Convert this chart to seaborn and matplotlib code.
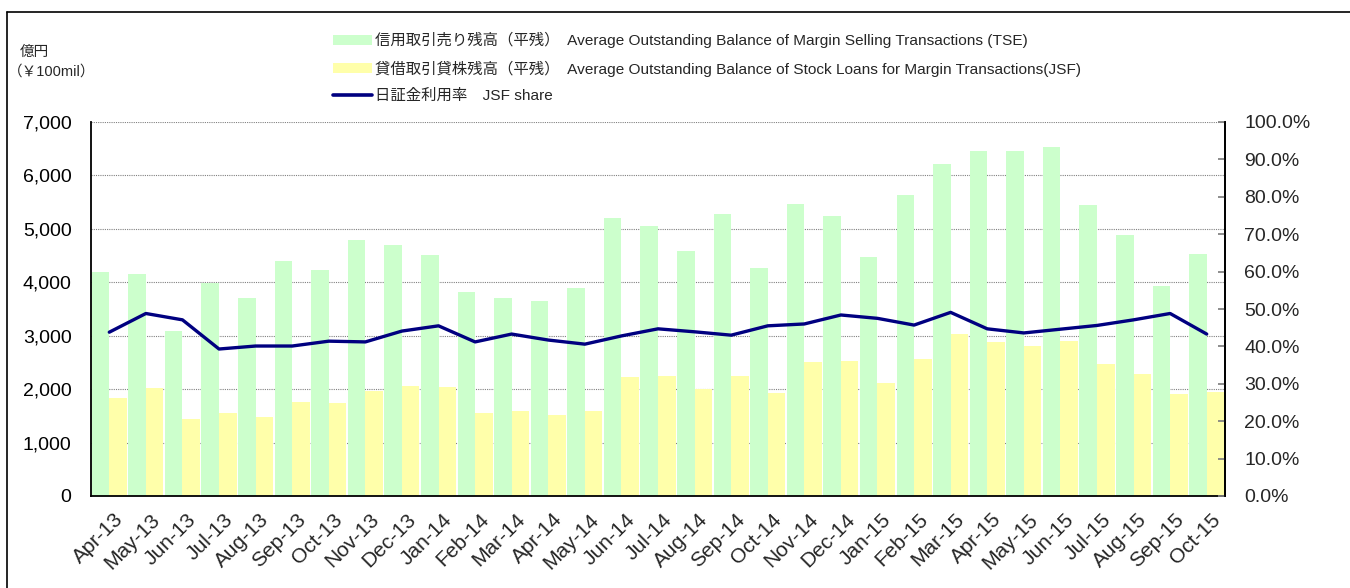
import numpy as np
import pandas as pd
import seaborn as sns
import matplotlib.pyplot as plt
import matplotlib.transforms as mtransforms
from matplotlib.patches import Patch
from matplotlib.lines import Line2D
from matplotlib.ticker import FixedLocator, StrMethodFormatter, PercentFormatter

sns.set_theme(style='white')
plt.rcParams['font.family'] = ['Liberation Sans', 'Noto Sans CJK JP']

# data
months = ['Apr-13', 'May-13', 'Jun-13', 'Jul-13', 'Aug-13', 'Sep-13', 'Oct-13', 'Nov-13',
          'Dec-13', 'Jan-14', 'Feb-14', 'Mar-14', 'Apr-14', 'May-14', 'Jun-14', 'Jul-14',
          'Aug-14', 'Sep-14', 'Oct-14', 'Nov-14', 'Dec-14', 'Jan-15', 'Feb-15', 'Mar-15',
          'Apr-15', 'May-15', 'Jun-15', 'Jul-15', 'Aug-15', 'Sep-15', 'Oct-15']
tse_selling = [4190, 4155, 3080, 3980, 3711, 4398, 4230, 4791, 4698, 4511, 3818, 3706,
               3650, 3893, 5203, 5053, 4585, 5278, 4267, 5465, 5240, 4467, 5628, 6214,
               6463, 6457, 6532, 5452, 4879, 3930, 4529]
jsf_loans = [1828, 2016, 1435, 1548, 1473, 1754, 1735, 1965, 2059, 2040, 1553, 1590,
             1516, 1590, 2227, 2246, 2003, 2246, 1928, 2508, 2527, 2121, 2564, 3038,
             2888, 2807, 2901, 2470, 2283, 1903, 1952]
jsf_share = [43.8, 48.8, 47.1, 39.3, 40.1, 40.1, 41.4, 41.2, 44.1, 45.5, 41.2, 43.3,
             41.7, 40.6, 42.8, 44.7, 43.9, 43.0, 45.5, 46.0, 48.4, 47.5, 45.7, 49.1,
             44.7, 43.6, 44.6, 45.6, 47.1, 48.8, 43.3]

lab_tse = '信用取引売り残高（平残）  Average Outstanding Balance of Margin Selling Transactions (TSE)'
lab_jsf = '貸借取引貸株残高（平残）  Average Outstanding Balance of Stock Loans for Margin Transactions(JSF)'
lab_share = '日証金利用率　JSF share'

green = '#CCFFCC'
yellow = '#FFFFAA'
navy = '#000080'

df = pd.DataFrame({
    'month': months * 2,
    'value': tse_selling + jsf_loans,
    'series': ['TSE'] * len(months) + ['JSF'] * len(months),
})

fig = plt.figure(figsize=(13.5, 5.88), dpi=100)
ax = fig.add_axes([91 / 1350, 1 - 496 / 588, (1225 - 91) / 1350, (496 - 122) / 588])

sns.barplot(data=df, x='month', y='value', hue='series', hue_order=['TSE', 'JSF'],
            palette=[green, yellow], width=0.96, gap=0, saturation=1,
            edgecolor='none', linewidth=0, legend=False, ax=ax)
ax.set_xlim(-0.5, len(months) - 0.5)
ax.set_ylim(0, 7000)
ax.set_yticks(np.arange(0, 7001, 1000))
ax.yaxis.set_major_formatter(StrMethodFormatter('{x:,.0f}'))
ax.set_axisbelow(True)
ax.yaxis.grid(True, color='#808080', linestyle=(0, (1, 1)), linewidth=0.8)
ax.set_xlabel('')
ax.set_ylabel('')
ax.tick_params(axis='y', length=0, pad=14, labelsize=14, colors='black')
ax.tick_params(axis='x', which='major', length=0, pad=10, labelsize=15)
ax.xaxis.set_minor_locator(FixedLocator(np.arange(0.5, len(months) - 1, 1)))
ax.tick_params(axis='x', which='minor', direction='in', length=5, color='#808080', width=1)
shift = mtransforms.ScaledTranslation(4 / 100, 0, fig.dpi_scale_trans)
for lbl in ax.get_xticklabels():
    lbl.set_rotation(45)
    lbl.set_ha('right')
    lbl.set_va('top')
    lbl.set_rotation_mode('anchor')
    lbl.set_transform(lbl.get_transform() + shift)

for s in ['left', 'bottom', 'right']:
    ax.spines[s].set_color('black')
    ax.spines[s].set_linewidth(1.3)
ax.spines['top'].set_visible(False)

ax2 = ax.twinx()
sns.lineplot(x=np.arange(len(months)), y=jsf_share, color=navy, linewidth=2.4, ax=ax2)
ax2.set_ylim(0, 100)
ax2.set_yticks(np.arange(0, 101, 10))
ax2.yaxis.set_major_formatter(PercentFormatter(decimals=1))
ax2.tick_params(axis='y', direction='in', length=5, color='#808080', pad=14, labelsize=14)
ax2.grid(False)
ax2.spines['top'].set_visible(False)
ax2.spines['right'].set_color('black')
ax2.spines['right'].set_linewidth(1.3)
ax2.spines['left'].set_visible(False)
ax2.spines['bottom'].set_visible(False)

handles = [Patch(facecolor=green, edgecolor='none'),
           Patch(facecolor=yellow, edgecolor='none'),
           Line2D([0], [0], color=navy, linewidth=2.6)]
fig.legend(handles, [lab_tse, lab_jsf, lab_share], loc='upper left',
           bbox_to_anchor=(333 / 1350, 1 - 32 / 588), frameon=False,
           prop={'family': ['Liberation Sans', 'Noto Sans CJK JP'], 'size': 11.1},
           handlelength=2.5, handleheight=0.6, handletextpad=0.2,
           labelspacing=0.8, borderpad=0, borderaxespad=0)

fig.text(20 / 1350, 1 - 52 / 588, '億円', fontsize=10.5, va='center', ha='left',
         family=['Noto Sans CJK JP'])
fig.text(8 / 1350, 1 - 72 / 588, '（￥100mil）', fontsize=10.5, va='center', ha='left',
         family=['Liberation Sans', 'Noto Sans CJK JP'])

# outer frame
fig.add_artist(Line2D([7 / 1350, 7 / 1350], [0, 1 - 12 / 588], transform=fig.transFigure,
                      color='black', linewidth=1.2))
fig.add_artist(Line2D([7 / 1350, 1], [1 - 12 / 588, 1 - 12 / 588], transform=fig.transFigure,
                      color='black', linewidth=1.2))

fig.savefig('out.png', dpi=100)
